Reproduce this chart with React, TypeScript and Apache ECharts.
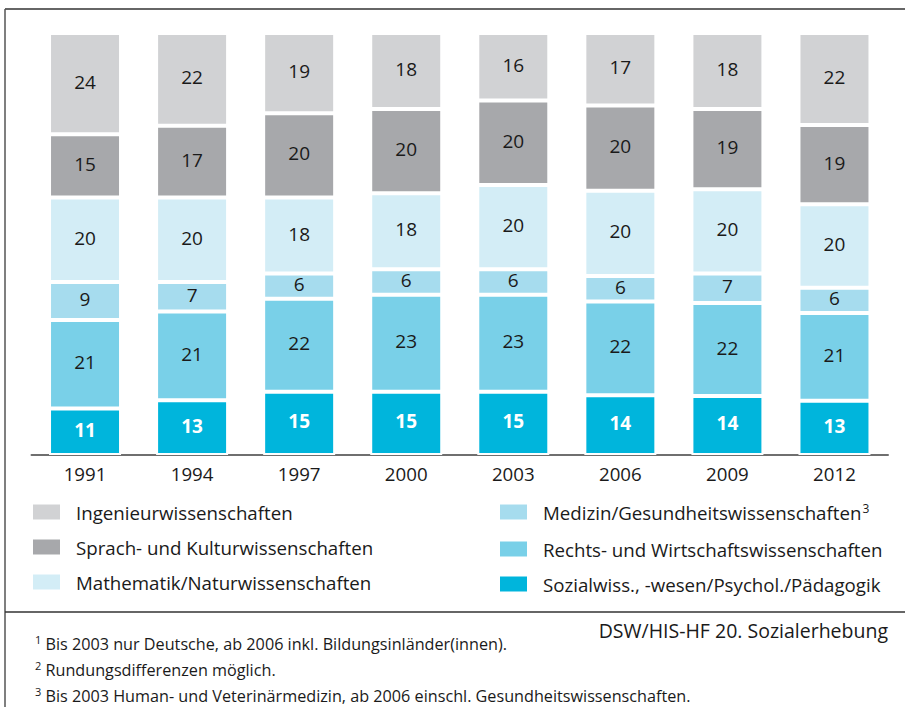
import React, { useEffect, useRef } from "react";
import * as echarts from "echarts";

const years = ["1991", "1994", "1997", "2000", "2003", "2006", "2009", "2012"];
const sozial = [11, 13, 15, 15, 15, 14, 14, 13];
const rechts = [21, 21, 22, 23, 23, 22, 22, 21];
const medizin = [9, 7, 6, 6, 6, 6, 7, 6];
const mathe = [20, 20, 18, 18, 20, 20, 20, 20];
const sprach = [15, 17, 20, 20, 20, 20, 19, 19];
const ingenieur = [24, 22, 19, 18, 16, 17, 18, 22];

const seriesDefs = [
  { name: "Sozialwiss., -wesen/Psychol./Pädagogik", data: sozial, color: "#00b5dc", label: "#ffffff", bold: true },
  { name: "Rechts- und Wirtschaftswissenschaften", data: rechts, color: "#79d0e8", label: "#1a1a1a", bold: false },
  { name: "Medizin/Gesundheitswissenschaften", data: medizin, color: "#a6dcee", label: "#1a1a1a", bold: false },
  { name: "Mathematik/Naturwissenschaften", data: mathe, color: "#d3edf6", label: "#1a1a1a", bold: false },
  { name: "Sprach- und Kulturwissenschaften", data: sprach, color: "#a7a8ab", label: "#1a1a1a", bold: false },
  { name: "Ingenieurwissenschaften", data: ingenieur, color: "#d1d2d4", label: "#1a1a1a", bold: false },
];

const footnotes = [
  { sup: "1", text: "Bis 2003 nur Deutsche, ab 2006 inkl. Bildungsinländer(innen)." },
  { sup: "2", text: "Rundungsdifferenzen möglich." },
  { sup: "3", text: "Bis 2003 Human- und Veterinärmedizin, ab 2006 einschl. Gesundheitswissenschaften." },
];
const sourceText = "DSW/HIS-HF 20. Sozialerhebung";

const FONT = "'Open Sans', 'Noto Sans', sans-serif";

export default function App() {
  const ref = useRef<HTMLDivElement>(null);
  useEffect(() => {
    document.body.style.margin = "0";
    if (!ref.current) return;
    const chart = echarts.init(ref.current, null, { renderer: "svg" });
    const totals = years.map((_, i) => seriesDefs.reduce((s, d) => s + d.data[i], 0));
    const series = seriesDefs.map((d) => ({
      name: d.name,
      type: "bar",
      stack: "total",
      barWidth: 72,
      data: d.data.map((v, i) => ({ value: (v / totals[i]) * 100, raw: v })),
      itemStyle: { color: d.color, borderColor: "#ffffff", borderWidth: 2 },
      label: {
        show: true,
        position: "inside",
        color: d.label,
        fontFamily: FONT,
        fontSize: 19,
        fontWeight: d.bold ? "bold" : "normal",
        offset: [0, -2],
        formatter: (p: any) => String(p.data.raw),
      },
    }));
    const legendCommon = {
      orient: "vertical",
      padding: 0,
      itemWidth: 29,
      itemHeight: 17,
      itemGap: 15,
      icon: "rect",
      selectedMode: false,
      textStyle: {
        fontFamily: FONT,
        fontSize: 18.7,
        lineHeight: 20,
        color: "#1a1a1a",
        padding: [0, 0, 0, 10],
        rich: {
          sup: { fontFamily: FONT, fontSize: 12, lineHeight: 20, color: "#1a1a1a", verticalAlign: "top", padding: [0, 0, 10, 1] },
        },
      },
    };
    chart.setOption({
      animation: false,
      grid: { left: 31.5, width: 856.5, top: 33, height: 422 },
      xAxis: {
        type: "category",
        data: years,
        axisTick: { show: false },
        axisLine: { lineStyle: { color: "#6f6f6f", width: 2 } },
        axisLabel: { fontFamily: FONT, fontSize: 18.7, color: "#1a1a1a", margin: 9 },
      },
      yAxis: { type: "value", min: 0, max: 100, show: false },
      legend: [
        {
          ...legendCommon,
          left: 31,
          top: 502,
          data: ["Ingenieurwissenschaften", "Sprach- und Kulturwissenschaften", "Mathematik/Naturwissenschaften"],
        },
        {
          ...legendCommon,
          left: 498,
          top: 502,
          data: [
            "Medizin/Gesundheitswissenschaften",
            "Rechts- und Wirtschaftswissenschaften",
            "Sozialwiss., -wesen/Psychol./Pädagogik",
          ],
          formatter: (n: string) => (n.startsWith("Medizin") ? n + "{sup|3}" : n),
        },
      ],
      graphic: [
        { type: "line", shape: { x1: 5, y1: 9, x2: 905, y2: 9 }, style: { stroke: "#333333", lineWidth: 1.5 } },
        { type: "line", shape: { x1: 5, y1: 9, x2: 5, y2: 707 }, style: { stroke: "#555555", lineWidth: 1.5 } },
        { type: "line", shape: { x1: 5, y1: 612, x2: 905, y2: 612 }, style: { stroke: "#333333", lineWidth: 1.5 } },
        {
          type: "text",
          right: 17,
          top: 620,
          style: { text: sourceText, font: `19.5px ${FONT}`, fill: "#1a1a1a" },
        },
        ...footnotes.map((f, i) => ({
          type: "text",
          left: 35,
          top: 634 + i * 26,
          style: {
            text: `{sup|${f.sup}} ${f.text}`,
            font: `16.2px ${FONT}`,
            fill: "#1a1a1a",
            rich: {
              sup: { fontFamily: FONT, fontSize: 11, fill: "#1a1a1a", verticalAlign: "top", padding: [0, 0, 8, 0] },
            },
          },
        })),
      ],
      series,
    });
    return () => chart.dispose();
  }, []);
  return <div ref={ref} style={{ width: 905, height: 707 }} />;
}
